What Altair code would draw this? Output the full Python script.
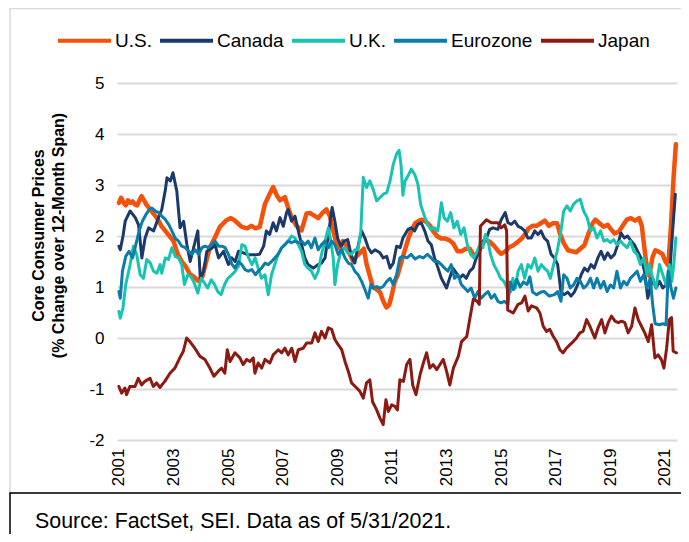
import altair as alt
import pandas as pd

series = ["U.S.", "Canada", "U.K.", "Eurozone", "Japan"]
colors = ["#F4510B", "#1B3A6B", "#19C3B1", "#0B7DA8", "#8C1A12"]
year_ticks = [2001, 2003, 2005, 2007, 2009, 2011, 2013, 2015, 2017, 2019, 2021]
y_ticks = [-2, -1, 0, 1, 2, 3, 4, 5]
y_title = ["Core Consumer Prices", "(% Change over 12-Month Span)"]
source_note = "Source: FactSet, SEI. Data as of 5/31/2021."

us = [(2001.0, 2.65), (2001.08, 2.75), (2001.17, 2.65), (2001.25, 2.6), (2001.33, 2.7), (2001.42, 2.65),
      (2001.5, 2.68), (2001.58, 2.62), (2001.67, 2.6), (2001.75, 2.7), (2001.83, 2.78), (2001.92, 2.7),
      (2002.0, 2.62), (2002.1, 2.55), (2002.25, 2.45), (2002.4, 2.35), (2002.55, 2.2), (2002.7, 2.1),
      (2002.85, 2.0), (2003.0, 1.9), (2003.15, 1.65), (2003.3, 1.5), (2003.45, 1.4), (2003.6, 1.25),
      (2003.75, 1.2), (2003.9, 1.12), (2004.05, 1.2), (2004.2, 1.5), (2004.33, 1.78), (2004.5, 1.95),
      (2004.7, 2.18), (2004.94, 2.31), (2005.1, 2.35), (2005.25, 2.3), (2005.5, 2.18), (2005.7, 2.15),
      (2005.85, 2.2), (2006.0, 2.15), (2006.16, 2.18), (2006.35, 2.63), (2006.5, 2.8), (2006.65, 2.96),
      (2006.78, 2.8), (2006.9, 2.7), (2007.08, 2.76), (2007.2, 2.55), (2007.32, 2.37), (2007.5, 2.2),
      (2007.69, 2.11), (2007.87, 2.44), (2008.0, 2.45), (2008.15, 2.4), (2008.3, 2.35), (2008.45, 2.45),
      (2008.6, 2.52), (2008.72, 2.4), (2008.85, 2.1), (2008.97, 1.85), (2009.1, 1.75), (2009.2, 1.9),
      (2009.35, 1.8), (2009.45, 1.65), (2009.58, 1.5), (2009.7, 1.6), (2009.85, 1.68), (2009.97, 1.75),
      (2010.07, 1.45), (2010.2, 1.2), (2010.3, 1.0), (2010.45, 0.95), (2010.56, 0.9), (2010.7, 0.7),
      (2010.8, 0.6), (2010.9, 0.65), (2011.0, 0.85), (2011.1, 1.1), (2011.22, 1.25), (2011.35, 1.5),
      (2011.46, 1.7), (2011.6, 1.95), (2011.71, 2.1), (2011.85, 2.25), (2012.0, 2.3), (2012.1, 2.32),
      (2012.25, 2.28), (2012.4, 2.2), (2012.5, 2.1), (2012.65, 2.0), (2012.8, 1.95), (2012.95, 1.95),
      (2013.1, 1.92), (2013.25, 1.85), (2013.4, 1.7), (2013.55, 1.7), (2013.7, 1.75), (2013.85, 1.75),
      (2014.0, 1.62), (2014.15, 1.65), (2014.3, 1.85), (2014.45, 1.92), (2014.6, 1.88), (2014.75, 1.8),
      (2014.9, 1.7), (2015.0, 1.65), (2015.15, 1.7), (2015.3, 1.78), (2015.45, 1.82), (2015.6, 1.88),
      (2015.75, 1.95), (2015.9, 2.05), (2016.0, 2.15), (2016.15, 2.2), (2016.3, 2.2), (2016.45, 2.25),
      (2016.6, 2.3), (2016.75, 2.2), (2016.9, 2.25), (2017.05, 2.25), (2017.15, 2.05), (2017.3, 1.85),
      (2017.45, 1.72), (2017.6, 1.7), (2017.75, 1.68), (2017.9, 1.75), (2018.05, 1.82), (2018.2, 2.05),
      (2018.35, 2.25), (2018.45, 2.32), (2018.6, 2.25), (2018.75, 2.18), (2018.9, 2.22), (2019.0, 2.15),
      (2019.15, 2.05), (2019.3, 2.08), (2019.45, 2.2), (2019.6, 2.32), (2019.75, 2.35), (2019.9, 2.3),
      (2020.05, 2.35), (2020.15, 2.2), (2020.25, 1.75), (2020.33, 1.4), (2020.42, 1.22), (2020.55, 1.6),
      (2020.65, 1.72), (2020.75, 1.7), (2020.9, 1.65), (2021.02, 1.5), (2021.12, 1.42), (2021.22, 2.2),
      (2021.32, 3.2), (2021.4, 3.8)]

canada = [(2001.0, 1.8), (2001.05, 1.73), (2001.15, 2.0), (2001.23, 2.29), (2001.41, 2.49), (2001.6, 2.36),
          (2001.72, 2.22), (2001.84, 1.57), (2001.96, 1.96), (2002.09, 2.16), (2002.27, 2.1), (2002.45, 2.36),
          (2002.57, 2.52), (2002.7, 2.9), (2002.76, 3.14), (2002.88, 3.08), (2002.98, 3.24), (2003.12, 2.88),
          (2003.24, 2.16), (2003.37, 2.29), (2003.49, 1.83), (2003.61, 1.5), (2003.73, 1.76), (2003.89, 2.1),
          (2003.98, 1.17), (2004.1, 1.3), (2004.22, 1.7), (2004.4, 1.76), (2004.52, 1.83), (2004.65, 1.57),
          (2004.83, 1.7), (2005.01, 1.44), (2005.13, 1.57), (2005.26, 1.5), (2005.38, 1.7), (2005.56, 1.67),
          (2005.74, 1.63), (2005.99, 1.63), (2006.15, 1.64), (2006.3, 1.8), (2006.4, 2.1), (2006.52, 2.03),
          (2006.65, 2.26), (2006.77, 2.1), (2006.9, 2.36), (2007.02, 2.19), (2007.14, 2.46), (2007.2, 2.52),
          (2007.32, 2.29), (2007.45, 2.39), (2007.57, 2.1), (2007.69, 1.83), (2007.81, 1.57), (2007.93, 1.44),
          (2008.12, 1.37), (2008.3, 1.44), (2008.42, 1.47), (2008.55, 1.57), (2008.69, 2.1), (2008.81, 2.56),
          (2008.91, 2.29), (2009.01, 1.96), (2009.13, 1.8), (2009.25, 1.9), (2009.38, 1.93), (2009.52, 1.6),
          (2009.64, 1.47), (2009.77, 1.83), (2009.89, 2.1), (2010.01, 1.96), (2010.13, 1.77), (2010.25, 1.67),
          (2010.38, 1.73), (2010.56, 1.67), (2010.68, 1.57), (2010.81, 1.6), (2010.93, 1.37), (2011.05, 1.47),
          (2011.17, 1.8), (2011.3, 1.77), (2011.4, 1.96), (2011.59, 2.13), (2011.71, 2.16), (2011.83, 2.1),
          (2011.95, 2.23), (2012.07, 2.26), (2012.2, 2.1), (2012.32, 1.9), (2012.44, 1.83), (2012.56, 1.57),
          (2012.69, 1.37), (2012.81, 1.17), (2013.0, 0.98), (2013.11, 1.17), (2013.23, 1.37), (2013.36, 1.27),
          (2013.48, 1.17), (2013.6, 1.24), (2013.72, 1.17), (2013.85, 1.31), (2013.97, 1.37), (2014.09, 1.57),
          (2014.21, 1.7), (2014.33, 1.9), (2014.46, 1.96), (2014.58, 2.13), (2014.7, 2.16), (2014.88, 2.13),
          (2015.0, 2.32), (2015.15, 2.46), (2015.25, 2.26), (2015.37, 2.23), (2015.5, 2.29), (2015.62, 2.19),
          (2015.74, 2.16), (2015.86, 2.1), (2015.98, 1.96), (2016.1, 1.96), (2016.23, 2.1), (2016.35, 2.03),
          (2016.46, 2.1), (2016.58, 1.96), (2016.7, 1.9), (2016.83, 1.64), (2016.95, 1.57), (2017.07, 1.44),
          (2017.13, 1.17), (2017.19, 0.9), (2017.31, 0.85), (2017.44, 0.9), (2017.56, 0.82), (2017.68, 0.9),
          (2017.8, 1.04), (2017.93, 1.24), (2018.05, 1.37), (2018.17, 1.31), (2018.29, 1.44), (2018.41, 1.37),
          (2018.54, 1.57), (2018.66, 1.7), (2018.78, 1.54), (2018.9, 1.67), (2019.02, 1.57), (2019.15, 1.64),
          (2019.27, 1.83), (2019.39, 2.06), (2019.51, 1.96), (2019.63, 2.0), (2019.76, 1.9), (2019.88, 1.83),
          (2020.0, 1.7), (2020.12, 1.57), (2020.25, 1.31), (2020.37, 0.78), (2020.46, 0.98), (2020.55, 1.17),
          (2020.67, 0.98), (2020.8, 1.11), (2020.92, 0.98), (2021.04, 1.04), (2021.16, 1.17), (2021.28, 2.1),
          (2021.38, 2.82)]

uk = [(2001.0, 0.52), (2001.05, 0.39), (2001.15, 0.59), (2001.25, 1.05), (2001.41, 1.44), (2001.53, 1.8),
      (2001.65, 1.64), (2001.78, 1.24), (2001.9, 1.17), (2002.02, 1.54), (2002.15, 1.47), (2002.27, 1.31),
      (2002.39, 1.27), (2002.51, 1.44), (2002.57, 1.27), (2002.7, 1.57), (2002.82, 1.54), (2002.94, 1.77),
      (2003.06, 1.6), (2003.18, 1.57), (2003.3, 1.44), (2003.4, 1.05), (2003.52, 1.24), (2003.64, 1.2),
      (2003.76, 1.08), (2003.89, 0.88), (2004.01, 1.17), (2004.13, 1.08), (2004.25, 0.98), (2004.38, 1.14),
      (2004.5, 1.05), (2004.62, 0.91), (2004.74, 0.85), (2004.87, 1.05), (2004.99, 1.17), (2005.14, 1.24),
      (2005.26, 1.31), (2005.38, 1.41), (2005.5, 1.83), (2005.62, 1.8), (2005.75, 1.57), (2005.87, 1.44),
      (2005.99, 1.57), (2006.1, 1.37), (2006.22, 1.17), (2006.35, 1.24), (2006.47, 0.85), (2006.59, 1.24),
      (2006.71, 1.44), (2006.83, 1.64), (2006.96, 1.77), (2007.08, 1.83), (2007.2, 1.9), (2007.32, 2.0),
      (2007.45, 1.96), (2007.57, 1.83), (2007.69, 1.7), (2007.81, 1.44), (2007.93, 1.37), (2008.05, 1.31),
      (2008.18, 1.17), (2008.3, 1.31), (2008.42, 1.64), (2008.55, 1.9), (2008.67, 2.16), (2008.76, 1.9),
      (2008.85, 1.57), (2008.91, 1.05), (2009.01, 1.44), (2009.13, 1.7), (2009.25, 1.77), (2009.38, 1.67),
      (2009.52, 1.64), (2009.64, 1.73), (2009.76, 1.73), (2009.86, 2.1), (2009.95, 3.15), (2010.07, 2.95),
      (2010.19, 3.08), (2010.31, 2.92), (2010.44, 2.69), (2010.56, 2.75), (2010.68, 2.82), (2010.81, 2.85),
      (2010.93, 3.08), (2011.05, 3.41), (2011.17, 3.61), (2011.26, 3.68), (2011.33, 3.41), (2011.4, 2.8),
      (2011.48, 3.08), (2011.56, 3.15), (2011.71, 3.31), (2011.83, 3.21), (2011.95, 3.02), (2012.05, 2.62),
      (2012.17, 2.42), (2012.3, 2.23), (2012.42, 2.13), (2012.56, 2.16), (2012.68, 2.1), (2012.81, 2.65),
      (2012.91, 2.36), (2013.03, 2.29), (2013.15, 2.46), (2013.27, 2.16), (2013.39, 2.29), (2013.52, 2.03),
      (2013.64, 2.16), (2013.76, 1.83), (2013.88, 1.64), (2014.0, 1.57), (2014.12, 1.7), (2014.25, 1.87),
      (2014.33, 1.77), (2014.42, 2.03), (2014.52, 1.9), (2014.61, 1.64), (2014.73, 1.44), (2014.86, 1.31),
      (2014.98, 1.17), (2015.1, 1.11), (2015.22, 0.98), (2015.35, 0.91), (2015.43, 1.17), (2015.52, 0.98),
      (2015.62, 1.31), (2015.74, 1.44), (2015.86, 1.17), (2015.98, 1.44), (2016.1, 1.37), (2016.23, 1.57),
      (2016.35, 1.31), (2016.47, 1.44), (2016.58, 1.37), (2016.7, 1.31), (2016.8, 1.17), (2016.92, 1.44),
      (2017.05, 1.7), (2017.17, 2.03), (2017.29, 2.49), (2017.41, 2.59), (2017.53, 2.49), (2017.65, 2.62),
      (2017.78, 2.69), (2017.9, 2.72), (2018.02, 2.49), (2018.15, 2.36), (2018.27, 2.1), (2018.39, 2.16),
      (2018.51, 1.96), (2018.64, 2.1), (2018.76, 1.9), (2018.88, 1.93), (2019.0, 1.87), (2019.12, 1.93),
      (2019.24, 1.83), (2019.37, 1.9), (2019.49, 1.83), (2019.61, 1.77), (2019.73, 1.9), (2019.86, 1.7),
      (2019.98, 1.64), (2020.1, 1.44), (2020.22, 1.57), (2020.34, 1.24), (2020.43, 1.44), (2020.55, 1.17),
      (2020.67, 0.98), (2020.8, 1.44), (2020.92, 1.24), (2021.04, 1.04), (2021.16, 1.44), (2021.25, 1.11),
      (2021.32, 1.44), (2021.4, 1.96)]

eurozone = [(2001.0, 0.91), (2001.05, 0.78), (2001.13, 1.31), (2001.25, 1.6), (2001.37, 1.7), (2001.5, 1.57),
            (2001.62, 1.83), (2001.74, 2.1), (2001.86, 2.29), (2001.99, 2.42), (2002.11, 2.52), (2002.2, 2.55),
            (2002.33, 2.49), (2002.45, 2.46), (2002.57, 2.39), (2002.69, 2.33), (2002.82, 2.23), (2002.94, 2.1),
            (2003.06, 1.96), (2003.18, 1.9), (2003.3, 1.8), (2003.43, 1.77), (2003.55, 1.7), (2003.67, 1.64),
            (2003.79, 1.73), (2003.92, 1.64), (2004.04, 1.77), (2004.16, 1.8), (2004.28, 1.77), (2004.4, 1.83),
            (2004.52, 1.9), (2004.65, 1.8), (2004.77, 1.8), (2004.89, 1.77), (2005.01, 1.64), (2005.14, 1.44),
            (2005.26, 1.37), (2005.38, 1.5), (2005.5, 1.44), (2005.62, 1.34), (2005.74, 1.31), (2005.87, 1.34),
            (2006.0, 1.24), (2006.1, 1.31), (2006.22, 1.37), (2006.35, 1.47), (2006.47, 1.44), (2006.59, 1.5),
            (2006.71, 1.57), (2006.83, 1.64), (2006.96, 1.77), (2007.08, 1.83), (2007.2, 1.9), (2007.32, 1.87),
            (2007.45, 1.9), (2007.57, 1.87), (2007.69, 1.9), (2007.81, 1.83), (2007.93, 1.9), (2008.05, 1.77),
            (2008.18, 1.96), (2008.3, 1.73), (2008.42, 1.83), (2008.55, 1.9), (2008.67, 1.77), (2008.79, 1.9),
            (2008.91, 1.83), (2009.03, 1.64), (2009.16, 1.73), (2009.28, 1.57), (2009.4, 1.47), (2009.52, 1.44),
            (2009.64, 1.31), (2009.76, 1.24), (2009.89, 1.11), (2010.01, 0.95), (2010.13, 0.78), (2010.23, 1.05),
            (2010.32, 0.98), (2010.44, 1.01), (2010.56, 0.98), (2010.68, 1.01), (2010.81, 1.11), (2010.93, 1.17),
            (2011.05, 1.05), (2011.17, 1.24), (2011.29, 1.57), (2011.4, 1.6), (2011.55, 1.57), (2011.7, 1.64),
            (2011.85, 1.55), (2012.0, 1.6), (2012.15, 1.57), (2012.3, 1.64), (2012.44, 1.57), (2012.56, 1.5),
            (2012.68, 1.5), (2012.81, 1.44), (2012.93, 1.37), (2013.05, 1.31), (2013.17, 1.44), (2013.29, 1.17),
            (2013.42, 1.24), (2013.54, 1.05), (2013.66, 0.98), (2013.78, 0.91), (2013.9, 0.98), (2014.03, 0.78),
            (2014.15, 0.91), (2014.27, 0.78), (2014.39, 0.85), (2014.52, 0.91), (2014.64, 0.78), (2014.76, 0.85),
            (2014.88, 0.72), (2015.0, 0.69), (2015.12, 0.72), (2015.25, 0.66), (2015.33, 1.1), (2015.45, 0.95),
            (2015.57, 1.15), (2015.7, 1.0), (2015.82, 1.1), (2015.95, 1.05), (2016.05, 1.2), (2016.15, 0.9),
            (2016.3, 0.85), (2016.46, 0.9), (2016.58, 0.91), (2016.76, 0.82), (2016.95, 0.85), (2017.07, 0.91),
            (2017.19, 0.72), (2017.29, 1.24), (2017.41, 1.17), (2017.53, 0.98), (2017.65, 1.04), (2017.78, 1.17),
            (2017.9, 1.11), (2018.02, 0.98), (2018.15, 1.04), (2018.27, 1.17), (2018.39, 0.98), (2018.51, 1.17),
            (2018.64, 0.98), (2018.76, 1.11), (2018.88, 0.91), (2019.0, 1.04), (2019.12, 0.98), (2019.24, 1.31),
            (2019.37, 0.98), (2019.49, 1.11), (2019.61, 1.04), (2019.73, 1.17), (2019.86, 1.24), (2019.98, 1.31),
            (2020.1, 1.11), (2020.22, 1.24), (2020.34, 0.98), (2020.46, 1.17), (2020.55, 0.65), (2020.64, 0.28),
            (2020.8, 0.26), (2020.92, 0.28), (2021.04, 0.26), (2021.12, 1.31), (2021.22, 0.98), (2021.31, 0.78),
            (2021.4, 0.98)]

japan = [(2001.0, -0.95), (2001.1, -1.08), (2001.22, -0.98), (2001.28, -1.11), (2001.4, -0.95), (2001.59, -0.95),
         (2001.71, -0.79), (2001.83, -0.92), (2001.95, -0.85), (2002.14, -0.79), (2002.26, -0.95), (2002.38, -0.88),
         (2002.5, -0.97), (2002.68, -0.85), (2002.87, -0.69), (2003.05, -0.59), (2003.23, -0.39), (2003.36, -0.26),
         (2003.48, 0.0), (2003.6, -0.07), (2003.78, -0.2), (2003.97, -0.36), (2004.15, -0.42), (2004.33, -0.59),
         (2004.48, -0.75), (2004.64, -0.65), (2004.76, -0.59), (2004.88, -0.69), (2004.97, -0.23), (2005.07, -0.46),
         (2005.25, -0.29), (2005.43, -0.39), (2005.55, -0.52), (2005.68, -0.42), (2005.8, -0.46), (2005.92, -0.39),
         (2005.98, -0.69), (2006.1, -0.49), (2006.23, -0.59), (2006.35, -0.42), (2006.53, -0.49), (2006.65, -0.33),
         (2006.84, -0.23), (2006.96, -0.29), (2007.08, -0.2), (2007.2, -0.33), (2007.33, -0.2), (2007.45, -0.46),
         (2007.57, -0.23), (2007.75, -0.2), (2007.87, -0.1), (2008.06, -0.1), (2008.18, 0.1), (2008.3, -0.07),
         (2008.42, 0.13), (2008.55, 0.0), (2008.67, 0.2), (2008.79, 0.17), (2008.91, -0.03), (2009.03, -0.13),
         (2009.16, -0.23), (2009.28, -0.46), (2009.4, -0.65), (2009.52, -0.88), (2009.71, -0.98), (2009.83, -1.05),
         (2009.95, -1.18), (2010.07, -0.88), (2010.19, -0.82), (2010.29, -1.25), (2010.44, -1.41), (2010.56, -1.57),
         (2010.68, -1.7), (2010.78, -1.21), (2010.87, -1.44), (2010.99, -1.31), (2011.11, -1.34), (2011.2, -1.41),
         (2011.29, -0.82), (2011.42, -0.85), (2011.54, -0.52), (2011.66, -0.42), (2011.76, -0.92), (2011.88, -1.11),
         (2012.03, -0.72), (2012.15, -0.49), (2012.27, -0.29), (2012.39, -0.59), (2012.51, -0.52), (2012.64, -0.62),
         (2012.76, -0.52), (2012.88, -0.42), (2013.0, -0.65), (2013.12, -0.92), (2013.25, -0.59), (2013.43, -0.36),
         (2013.55, -0.07), (2013.74, 0.03), (2013.86, 0.4), (2013.98, 0.76), (2014.1, 0.73), (2014.2, 0.66),
         (2014.24, 2.19), (2014.46, 2.32), (2014.64, 2.26), (2014.88, 2.26), (2015.0, 2.16), (2015.13, 2.22),
         (2015.2, 2.1), (2015.24, 0.55), (2015.44, 0.49), (2015.62, 0.66), (2015.75, 0.69), (2015.87, 0.82),
         (2015.99, 0.53), (2016.11, 0.63), (2016.3, 0.59), (2016.42, 0.49), (2016.54, 0.23), (2016.66, 0.13),
         (2016.78, 0.17), (2016.91, 0.03), (2017.03, -0.07), (2017.15, -0.23), (2017.27, -0.29), (2017.39, -0.2),
         (2017.52, -0.13), (2017.64, -0.07), (2017.76, 0.0), (2017.88, 0.1), (2018.0, 0.13), (2018.13, 0.36),
         (2018.25, 0.23), (2018.43, 0.0), (2018.55, 0.2), (2018.68, 0.36), (2018.8, 0.1), (2018.92, 0.3),
         (2019.04, 0.43), (2019.17, 0.33), (2019.29, 0.3), (2019.41, 0.33), (2019.53, 0.3), (2019.65, 0.1),
         (2019.78, 0.23), (2019.9, 0.59), (2020.02, 0.36), (2020.14, 0.23), (2020.26, 0.1), (2020.39, -0.07),
         (2020.51, 0.26), (2020.63, -0.39), (2020.75, -0.33), (2020.87, -0.43), (2020.96, -0.59), (2021.06, -0.2),
         (2021.16, 0.36), (2021.24, 0.4), (2021.3, -0.26), (2021.42, -0.29)]

rows = []
for name, pts in zip(series, [us, canada, uk, eurozone, japan]):
    for t, v in pts:
        rows.append({"series": name, "t": t, "v": v})
df = pd.DataFrame(rows)

FONT = "Liberation Sans"
W, H = 560, 357

x_enc = alt.X("t:Q",
              scale=alt.Scale(domain=[2000.93, 2021.44], nice=False, zero=False),
              axis=alt.Axis(values=year_ticks, labelExpr="'' + datum.value", labelAngle=270,
                            grid=False, domain=False, ticks=False, tickSize=0, labelPadding=8,
                            labelFontSize=17, labelColor="#000000", labelFont=FONT, title=None))
y_enc = alt.Y("v:Q",
              scale=alt.Scale(domain=[-2, 5], nice=False, zero=False),
              axis=alt.Axis(values=y_ticks, labelExpr="'' + datum.value", grid=True,
                            gridColor="#d9d9d9", gridWidth=2, domain=False, ticks=False, tickSize=0,
                            labelPadding=13, labelFontSize=17, labelColor="#000000", labelFont=FONT,
                            title=y_title, titleFont=FONT, titleFontSize=16, titleFontWeight="bold",
                            titleColor="#000000", titleAngle=270, titleX=-79, titleY=152,
                            titleAlign="center", titleBaseline="middle", titleLineHeight=20))
c_enc = alt.Color("series:N",
                  scale=alt.Scale(domain=series, range=colors),
                  legend=alt.Legend(title=None, orient="none", legendX=-61, legendY=-71,
                                    direction="horizontal", symbolType="stroke", symbolSize=2809,
                                    symbolStrokeWidth=4, labelFontSize=19, labelFont=FONT,
                                    labelColor="#000000", columnPadding=0, labelOffset=2,
                                    padding=0))

base = alt.Chart(df).encode(x=x_enc, y=y_enc, color=c_enc)
us_line = base.transform_filter(alt.datum.series == "U.S.").mark_line(
    strokeWidth=4.5, strokeJoin="round", strokeCap="round")
other_lines = base.transform_filter(alt.datum.series != "U.S.").mark_line(
    strokeWidth=3, strokeJoin="round", strokeCap="round")

one = pd.DataFrame({"k": [0]})
frame = alt.Chart(one).mark_rect(fill="transparent", stroke="#d9d9d9", strokeWidth=1.5).encode(
    x=alt.value(-107), x2=alt.value(567), y=alt.value(-74.5), y2=alt.value(410))
srcbox = alt.Chart(one).mark_rect(fill="transparent", stroke="#000000", strokeWidth=1.5).encode(
    x=alt.value(-107), x2=alt.value(590), y=alt.value(410), y2=alt.value(480))
srctext = alt.Chart(one).mark_text(align="left", baseline="middle", fontSize=21.4, font=FONT,
                                   color="#000000").encode(
    x=alt.value(-82), y=alt.value(438.5), text=alt.value(source_note))

chart = alt.layer(frame, srcbox, us_line, other_lines, srctext).properties(
    width=W, height=H,
    autosize=alt.AutoSizeParams(type="none"),
    padding={"left": 109, "top": 75, "right": 4, "bottom": 94},
).configure(font=FONT).configure_view(strokeWidth=0)

chart.save("out.html", embed_options={"renderer": "svg", "actions": False})
